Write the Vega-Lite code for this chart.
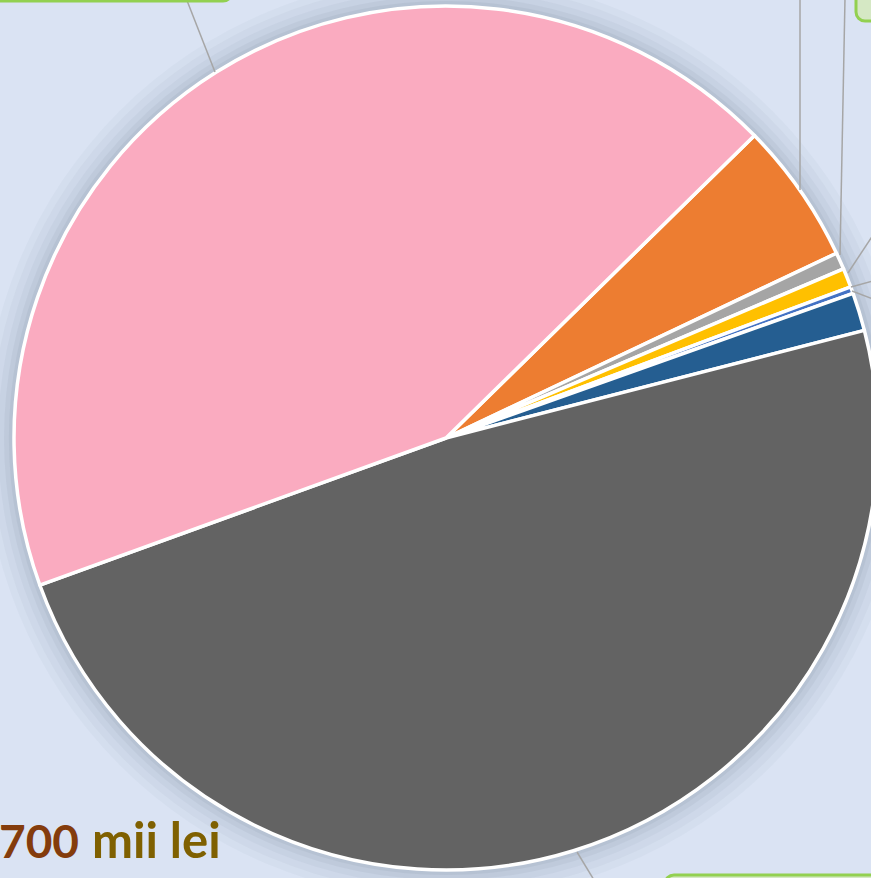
{
  "$schema": "https://vega.github.io/schema/vega-lite/v6.json",
  "width": 850,
  "height": 876,
  "padding": {"left": 21, "top": 0, "right": 0, "bottom": 2},
  "autosize": {"type": "none"},
  "background": "#DAE3F3",
  "config": {"view": {"stroke": null}},
  "resolve": {"scale": {"theta": "independent", "color": "independent"}},
  "layer": [
    {
      "data": {"values": [{"v": 1}]},
      "mark": {"type": "arc", "outerRadius": 462, "color": "#7d8aa0", "opacity": 0.05},
      "encoding": {"theta": {"field": "v", "type": "quantitative"}}
    },
    {
      "data": {"values": [{"v": 1}]},
      "mark": {"type": "arc", "outerRadius": 455, "color": "#7d8aa0", "opacity": 0.06},
      "encoding": {"theta": {"field": "v", "type": "quantitative"}}
    },
    {
      "data": {"values": [{"v": 1}]},
      "mark": {"type": "arc", "outerRadius": 448, "color": "#7d8aa0", "opacity": 0.08},
      "encoding": {"theta": {"field": "v", "type": "quantitative"}}
    },
    {
      "data": {"values": [{"v": 1}]},
      "mark": {"type": "arc", "outerRadius": 442, "color": "#7d8aa0", "opacity": 0.1},
      "encoding": {"theta": {"field": "v", "type": "quantitative"}}
    },
    {
      "data": {"values": [{"v": 1}]},
      "mark": {"type": "arc", "outerRadius": 437, "color": "#7d8aa0", "opacity": 0.12},
      "encoding": {"theta": {"field": "v", "type": "quantitative"}}
    },
    {
      "data": {"values": [
        {"categorie": "C1", "valoare": 19.12, "ord": 1},
        {"categorie": "C2", "valoare": 2.26, "ord": 2},
        {"categorie": "C3", "valoare": 2.58, "ord": 3},
        {"categorie": "C4", "valoare": 0.91, "ord": 4},
        {"categorie": "C5", "valoare": 5.14, "ord": 5},
        {"categorie": "C6", "valoare": 174.53, "ord": 6},
        {"categorie": "C7", "valoare": 155.46, "ord": 7}
      ]},
      "mark": {"type": "arc", "outerRadius": 432, "stroke": "white", "strokeWidth": 3.5, "strokeJoin": "round"},
      "encoding": {
        "theta": {"field": "valoare", "type": "quantitative", "stack": true, "scale": {"range": [0.7952, 7.0784]}},
        "order": {"field": "ord", "type": "quantitative"},
        "color": {
          "field": "categorie", "type": "nominal", "legend": null,
          "scale": {
            "domain": ["C1", "C2", "C3", "C4", "C5", "C6", "C7"],
            "range": ["#ED7D31", "#A5A5A5", "#FFC000", "#4472C4", "#255E91", "#636363", "#FAABC0"]
          }
        }
      }
    },
    {
      "data": {"values": [
        {"l": "A", "x1": 194, "y1": 72, "x2": 165, "y2": -2},
        {"l": "B", "x1": 779, "y1": 190, "x2": 779, "y2": -2},
        {"l": "C", "x1": 819, "y1": 255, "x2": 824, "y2": -2},
        {"l": "D", "x1": 827, "y1": 273, "x2": 852, "y2": 235},
        {"l": "E", "x1": 830, "y1": 287, "x2": 852, "y2": 281},
        {"l": "F", "x1": 831, "y1": 291, "x2": 852, "y2": 299},
        {"l": "G", "x1": 556, "y1": 852, "x2": 573, "y2": 880}
      ]},
      "mark": {"type": "rule", "color": "#A6A6A6", "strokeWidth": 1.5},
      "encoding": {
        "x": {"field": "x1", "type": "quantitative", "scale": {"domain": [0, 850]}, "axis": null},
        "y": {"field": "y1", "type": "quantitative", "scale": {"domain": [0, 876], "reverse": true}, "axis": null},
        "x2": {"field": "x2"},
        "y2": {"field": "y2"}
      }
    },
    {
      "data": {"values": [
        {"b": "stanga", "x1": -30, "y1": -40, "x2": 211, "y2": 1},
        {"b": "dreapta", "x1": 835, "y1": -40, "x2": 880, "y2": 21},
        {"b": "jos", "x1": 644, "y1": 875, "x2": 900, "y2": 920}
      ]},
      "mark": {"type": "rect", "fill": "#D5E8C4", "stroke": "#92D050", "strokeWidth": 3, "cornerRadius": 9},
      "encoding": {
        "x": {"field": "x1", "type": "quantitative", "scale": {"domain": [0, 850]}, "axis": null},
        "y": {"field": "y1", "type": "quantitative", "scale": {"domain": [0, 876], "reverse": true}, "axis": null},
        "x2": {"field": "x2"},
        "y2": {"field": "y2"}
      }
    },
    {
      "data": {"values": [{"t": "700"}]},
      "mark": {"type": "text", "font": "Lato", "fontWeight": "bold", "fontSize": 46, "align": "left", "baseline": "alphabetic", "color": "#843C0C"},
      "encoding": {"text": {"field": "t"}, "x": {"value": -22}, "y": {"value": 858}}
    },
    {
      "data": {"values": [{"t": "mii lei"}]},
      "mark": {"type": "text", "font": "Lato", "fontWeight": "bold", "fontSize": 49, "align": "left", "baseline": "alphabetic", "color": "#7F6000"},
      "encoding": {"text": {"field": "t"}, "x": {"value": 71}, "y": {"value": 858}}
    }
  ]
}
